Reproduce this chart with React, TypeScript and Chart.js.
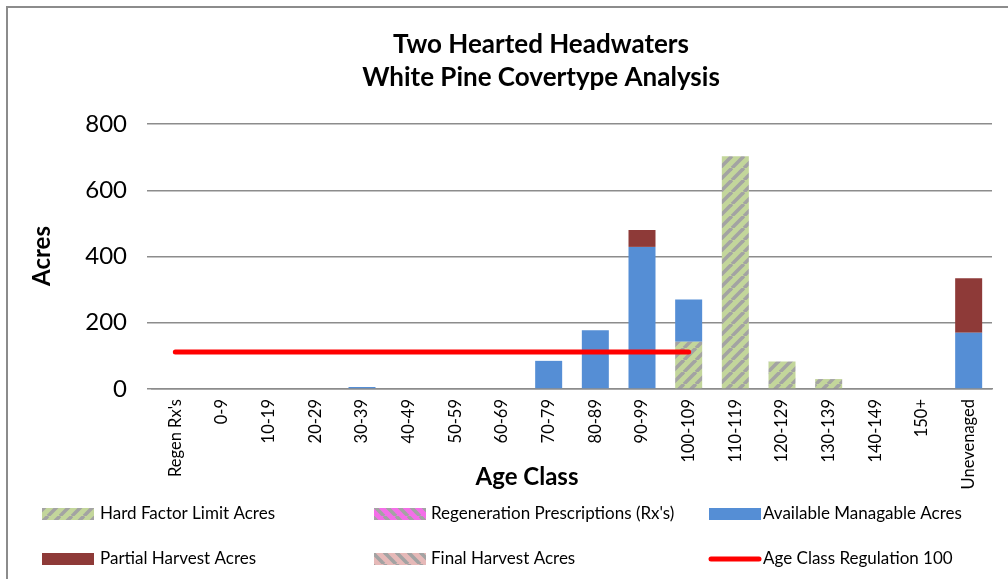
import React, { useEffect, useRef } from "react";
import { Chart, registerables } from "chart.js";

Chart.register(...registerables);

const categories = [
  "Regen Rx's", "0-9", "10-19", "20-29", "30-39", "40-49", "50-59", "60-69", "70-79",
  "80-89", "90-99", "100-109", "110-119", "120-129", "130-139", "140-149", "150+", "Unevenaged",
];
const hardFactor = [0, 0, 0, 0, 0, 0, 0, 0, 0, 0, 0, 143, 703, 83, 30, 0, 0, 0];
const regenRx = [0, 0, 0, 0, 0, 0, 0, 0, 0, 0, 0, 0, 0, 0, 0, 0, 0, 0];
const available = [0, 0, 0, 0, 6, 0, 0, 0, 85, 177, 429, 127, 0, 0, 0, 0, 0, 170];
const partial = [0, 0, 0, 0, 0, 0, 0, 0, 0, 0, 51, 0, 0, 0, 0, 0, 0, 164];
const finalHarvest = [0, 0, 0, 0, 0, 0, 0, 0, 0, 0, 0, 0, 0, 0, 0, 0, 0, 0];
const regulation = [112, 112, 112, 112, 112, 112, 112, 112, 112, 112, 112, 112, null, null, null, null, null, null];
const yTicks = [0, 200, 400, 600, 800];

const titleLines = ["Two Hearted Headwaters", "White Pine Covertype Analysis"];
const xTitle = "Age Class";
const yTitle = "Acres";

const FONT = "Lato, 'Open Sans', sans-serif";

function makePattern(bg: string, stripe: string, up: boolean) {
  const size = 12;
  const c = document.createElement("canvas");
  c.width = size;
  c.height = size;
  const x = c.getContext("2d")!;
  x.fillStyle = bg;
  x.fillRect(0, 0, size, size);
  x.strokeStyle = stripe;
  x.lineWidth = 3.6;
  for (let k = -1; k <= 1; k++) {
    x.beginPath();
    if (up) {
      x.moveTo(k * size, size);
      x.lineTo(k * size + size, 0);
    } else {
      x.moveTo(k * size, 0);
      x.lineTo(k * size + size, size);
    }
    x.stroke();
  }
  return x.createPattern(c, "repeat")!;
}

export default function App() {
  const ref = useRef<HTMLCanvasElement | null>(null);

  useEffect(() => {
    const canvas = ref.current!;
    const ctx0 = canvas.getContext("2d")!;
    const hardPat = makePattern("#c3d69b", "#a3a3a3", true);
    const regenPat = makePattern("#f46ee8", "#a3a3a3", false);
    const finalPat = makePattern("#e6b9b8", "#a3a3a3", false);
    const blue = "#558ed5";
    const red = "#8e3a38";

    const legendItems = [
      { label: "Hard Factor Limit Acres", fill: hardPat, line: false },
      { label: "Regeneration Prescriptions (Rx's)", fill: regenPat, line: false },
      { label: "Available Managable Acres", fill: blue, line: false },
      { label: "Partial Harvest Acres", fill: red, line: false },
      { label: "Final Harvest Acres", fill: finalPat, line: false },
      { label: "Age Class Regulation 100", fill: "#ff0000", line: true },
    ];

    const decor = {
      id: "decor",
      beforeDraw(chart: any) {
        const c = chart.ctx;
        c.save();
        c.fillStyle = "#ffffff";
        c.fillRect(0, 0, chart.width, chart.height);
        c.strokeStyle = "#8c8c8c";
        c.lineWidth = 2;
        c.strokeRect(7, 7, chart.width + 20, chart.height + 20);
        c.restore();
      },
      afterDraw(chart: any) {
        const c = chart.ctx;
        c.save();
        c.fillStyle = "#000";
        c.textAlign = "center";
        c.textBaseline = "middle";
        c.font = `bold 26px ${FONT}`;
        c.fillText(titleLines[0], 541, 45);
        c.fillText(titleLines[1], 541, 78);
        c.font = `bold 24px ${FONT}`;
        c.fillText(xTitle, 527, 477);
        c.save();
        c.translate(42, 256);
        c.rotate(-Math.PI / 2);
        c.fillText(yTitle, 0, 0);
        c.restore();

        const sx = [42, 374, 709];
        const tx = [100, 431, 763];
        const ry = [514, 559];
        c.font = `17px ${FONT}`;
        c.textAlign = "left";
        legendItems.forEach((it, i) => {
          const col = i % 3;
          const row = Math.floor(i / 3);
          const y = ry[row];
          if (it.line) {
            c.strokeStyle = it.fill;
            c.lineWidth = 5;
            c.lineCap = "round";
            c.beginPath();
            c.moveTo(sx[col] + 2, y);
            c.lineTo(sx[col] + 50, y);
            c.stroke();
          } else {
            c.fillStyle = it.fill;
            c.fillRect(sx[col], y - 6, 52, 12);
          }
          c.fillStyle = "#000";
          c.fillText(it.label, tx[col], y);
        });
        c.restore();
      },
    };

    const barCommon = { barThickness: 27, order: 1, inflateAmount: 0, borderWidth: 0 };

    const chart = new Chart(ctx0, {
      type: "bar",
      data: {
        labels: categories,
        datasets: [
          { label: legendItems[0].label, data: hardFactor, backgroundColor: hardPat, ...barCommon },
          { label: legendItems[1].label, data: regenRx, backgroundColor: regenPat, ...barCommon },
          { label: legendItems[2].label, data: available, backgroundColor: blue, ...barCommon },
          { label: legendItems[3].label, data: partial, backgroundColor: red, ...barCommon },
          { label: legendItems[4].label, data: finalHarvest, backgroundColor: finalPat, ...barCommon },
          {
            type: "line",
            label: legendItems[5].label,
            data: regulation,
            borderColor: "#ff0000",
            backgroundColor: "#ff0000",
            borderWidth: 5,
            borderCapStyle: "round",
            pointRadius: 0,
            spanGaps: false,
            order: 0,
          } as any,
        ],
      },
      options: {
        responsive: false,
        animation: false,
        devicePixelRatio: 1,
        layout: { padding: { top: 124, right: 16, left: 0, bottom: 0 } },
        plugins: { legend: { display: false }, title: { display: false }, tooltip: { enabled: false } },
        scales: {
          x: {
            stacked: true,
            grid: { display: false, drawTicks: false },
            border: { display: true, color: "#8c8c8c", width: 1.5 },
            ticks: {
              font: { family: FONT, size: 16.5 },
              color: "#000",
              minRotation: 90,
              maxRotation: 90,
              padding: 10,
              autoSkip: false,
            },
            afterFit: (s: any) => {
              s.height = 190;
            },
          },
          y: {
            stacked: true,
            min: 0,
            max: 800,
            afterBuildTicks: (s: any) => {
              s.ticks = yTicks.map((v) => ({ value: v }));
            },
            ticks: { font: { family: FONT, size: 24 }, color: "#000", padding: 20 },
            grid: { color: "#8c8c8c", lineWidth: 1.5, tickLength: 5, drawTicks: true },
            border: { display: false },
            afterFit: (s: any) => {
              s.width = 152;
            },
          },
        },
      },
      plugins: [decor],
    });
    return () => chart.destroy();
  }, []);

  return (
    <div style={{ position: "fixed", left: 0, top: 0, width: 1008, height: 579 }}>
      <canvas ref={ref} width={1008} height={579} />
    </div>
  );
}
